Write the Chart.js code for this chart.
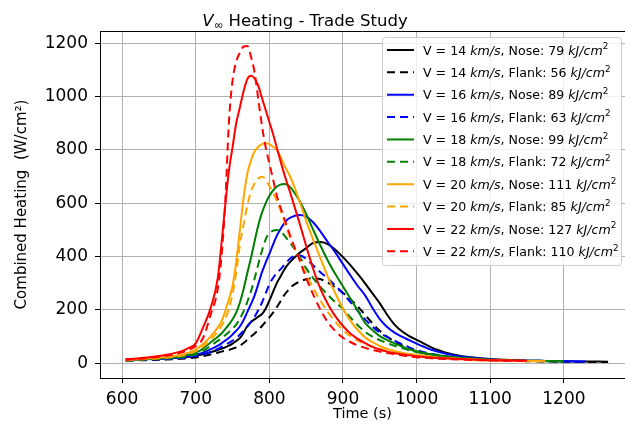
<!DOCTYPE html>
<html>
<head>
<meta charset="utf-8">
<script src="https://cdn.jsdelivr.net/npm/chart.js@4.4.1/dist/chart.umd.min.js"></script>
<style>
  html, body { margin: 0; padding: 0; background: #ffffff; }
  #wrap { width: 625px; height: 433px; }
</style>
</head>
<body>
<div id="wrap"><canvas id="chart" width="625" height="433"></canvas></div>
<script>
// Time samples (s) shared by every heating history
const timeS = [605, 620, 640, 660, 680, 690, 700, 710, 720, 730,
               735, 740, 745, 750, 755, 760, 765, 770, 775, 780,
               785, 790, 795, 800, 805, 810, 815, 820, 825, 830,
               840, 850, 860, 870, 880, 890, 900, 910, 920, 930,
               940, 950, 960, 970, 980, 990, 1000, 1010, 1020, 1030,
               1040, 1060, 1080, 1100, 1120, 1150, 1175, 1200, 1230, 1260];

// Combined heating (W/cm^2), nose and flank, per entry velocity
const v14Nose = [14, 15, 17, 19, 21, 24, 28, 34, 42, 50,
                 55, 60, 66, 74, 84, 95, 115, 140, 155, 165,
                 175, 185, 205, 235, 268, 300, 325, 350, 370, 385,
                 412, 432, 452, 455, 446, 425, 398, 368, 335, 300,
                 262, 225, 182, 145, 120, 102, 88, 74, 60, 49,
                 40, 28, 21, 16, 13, 10, 9, 8, 7, 6];
const v14Flank = [10, 11, 12, 14, 17, 19, 22, 27, 33, 40,
                  44, 47, 50, 55, 60, 66, 76, 88, 100, 112,
                  125, 140, 156, 172, 190, 210, 232, 255, 272, 288,
                  305, 315, 318, 315, 302, 284, 264, 240, 213, 182,
                  150, 122, 100, 82, 67, 55, 45, 38, 32, 27,
                  24, 19, 15, 12, 10, 8, 7, 6, 5, 5];
const v16Nose = [13, 14, 16, 18, 22, 26, 32, 40, 52, 66,
                 75, 85, 95, 108, 122, 138, 162, 192, 222, 255,
                 298, 342, 378, 410, 445, 478, 503, 524, 540, 548,
                 556, 550, 527, 492, 452, 414, 372, 330, 290, 255,
                 208, 166, 136, 115, 100, 87, 74, 62, 51, 43,
                 36, 26, 20, 15, 12, 10, 9, 8, 7, null];
const v16Flank = [11, 12, 14, 16, 19, 22, 27, 33, 42, 54,
                  62, 70, 77, 85, 95, 108, 122, 137, 155, 175,
                  200, 228, 262, 296, 320, 338, 352, 368, 384, 396,
                  405, 392, 366, 340, 316, 290, 262, 230, 197, 165,
                  138, 115, 98, 85, 72, 60, 50, 42, 36, 31,
                  27, 21, 16, 13, 11, 9, 8, 7, 6, null];
const v18Nose = [12, 14, 17, 20, 26, 32, 40, 55, 78, 100,
                 112, 128, 145, 165, 190, 228, 278, 338, 395, 458,
                 518, 565, 600, 628, 648, 662, 670, 672, 668, 655,
                 614, 560, 498, 438, 382, 333, 288, 243, 198, 152,
                 125, 102, 87, 75, 63, 53, 45, 39, 34, 30,
                 27, 21, 17, 14, 12, 10, 9, 8, null, null];
const v18Flank = [11, 12, 15, 18, 22, 27, 34, 46, 65, 84,
                  94, 105, 117, 130, 145, 168, 195, 230, 270, 318,
                  372, 422, 465, 488, 497, 500, 495, 481, 463, 445,
                  405, 356, 318, 285, 255, 228, 205, 172, 143, 118,
                  100, 87, 76, 66, 57, 49, 42, 37, 32, 28,
                  25, 20, 16, 13, 11, 9, 8, 7, null, null];
const v20Nose = [13, 15, 19, 24, 32, 40, 52, 72, 100, 135,
                 157, 195, 240, 290, 380, 500, 620, 710, 760, 795,
                 812, 822, 825, 822, 812, 800, 775, 745, 718, 690,
                 615, 535, 460, 390, 320, 260, 205, 160, 125, 98,
                 80, 65, 54, 46, 40, 35, 31, 28, 25, 22,
                 20, 17, 14, 12, 11, 9, 8, null, null, null];
const v20Flank = [12, 14, 17, 21, 28, 35, 46, 63, 88, 120,
                  140, 165, 205, 260, 340, 445, 520, 590, 645, 675,
                  693, 700, 690, 665, 640, 610, 575, 535, 495, 460,
                  395, 335, 280, 232, 190, 155, 125, 102, 85, 72,
                  62, 54, 47, 41, 36, 32, 28, 25, 22, 20,
                  18, 15, 12, 10, 9, 8, 7, null, null, null];
const v22Nose = [15, 18, 24, 32, 45, 57, 75, 135, 205, 320,
                 450, 590, 720, 810, 900, 960, 1020, 1065, 1078, 1068,
                 1040, 995, 950, 905, 860, 810, 760, 712, 668, 625,
                 535, 440, 350, 275, 220, 175, 140, 112, 92, 76,
                 62, 52, 44, 38, 34, 30, 27, 24, 22, 20,
                 19, 16, 14, 12, 11, 10, null, null, null, null];
const v22Flank = [13, 16, 21, 28, 40, 50, 65, 95, 180, 280,
                  400, 600, 900, 1060, 1130, 1165, 1188, 1190, 1150, 1090,
                  990, 890, 810, 750, 690, 630, 585, 545, 505, 465,
                  395, 320, 255, 198, 152, 120, 96, 80, 67, 58,
                  50, 44, 39, 34, 30, 26, 23, 21, 19, 17,
                  16, 14, 12, 11, 10, 9, null, null, null, null];

// Legend figures: velocity (km/s) and integrated heat load (kJ/cm^2)
const velocities = [14, 16, 18, 20, 22];
const noseLoad = [79, 89, 99, 111, 127];
const flankLoad = [56, 63, 72, 85, 110];

// Axis tick values
const xTicks = [600, 700, 800, 900, 1000, 1100, 1200];
const yTicks = [0, 200, 400, 600, 800, 1000, 1200];

const FONT = "'DejaVu Sans', sans-serif";
const colors = ['#000000', '#0000ff', '#008000', '#ffa500', '#ff0000'];
const DASH = [8, 5];

const seriesList = [
  [v14Nose, v14Flank], [v16Nose, v16Flank], [v18Nose, v18Flank],
  [v20Nose, v20Flank], [v22Nose, v22Flank]
];

const datasets = [];
const legendItems = [];
seriesList.forEach((pair, k) => {
  ['Nose', 'Flank'].forEach((loc, j) => {
    const vals = pair[j];
    const pts = [];
    timeS.forEach((t, i) => { if (vals[i] !== null) pts.push({ x: t, y: vals[i] }); });
    const idx = datasets.length;
    datasets.push({
      label: 'V = ' + velocities[k] + ' km/s, ' + loc + ': ' + (j === 0 ? noseLoad[k] : flankLoad[k]) + ' kJ/cm2',
      data: pts,
      borderColor: colors[k],
      borderWidth: 2,
      borderDash: j === 0 ? [] : DASH,
      borderCapStyle: 'butt',
      pointRadius: 0,
      fill: false,
      cubicInterpolationMode: 'monotone',
      order: 20 - idx
    });
    legendItems.push({ color: colors[k], dashed: j === 1, v: velocities[k], loc: loc,
                       load: j === 0 ? noseLoad[k] : flankLoad[k] });
  });
});

// Draw a run of mixed-style text segments starting at x, returns end x
function drawRich(ctx, segs, x, y, size, measureOnly) {
  let cx = x;
  segs.forEach(s => {
    let fs = size, dy = 0, style = '';
    if (s.s === 'i') style = 'oblique ';
    if (s.s === 'sup') { fs = size * 0.7; dy = -size * 0.42; }
    if (s.s === 'sub') { fs = size * 0.7; dy = size * 0.2; }
    ctx.font = style + fs + 'px ' + FONT;
    if (!measureOnly) ctx.fillText(s.t, cx, y + dy);
    cx += ctx.measureText(s.t).width;
  });
  return cx;
}

const decorPlugin = {
  id: 'decor',
  afterDraw(chart) {
    const ctx = chart.ctx;
    const area = chart.chartArea;
    ctx.save();
    // top spine
    ctx.strokeStyle = '#000';
    ctx.lineWidth = 1;
    ctx.beginPath();
    ctx.moveTo(area.left, area.top + 0.5);
    ctx.lineTo(area.right, area.top + 0.5);
    ctx.stroke();

    // title
    ctx.fillStyle = '#000';
    ctx.textBaseline = 'alphabetic';
    ctx.textAlign = 'left';
    const tSize = 16.5;
    const tSegs = [{ t: 'V', s: 'i' }, { t: '\u221e', s: 'sub' }, { t: ' Heating - Trade Study', s: 'n' }];
    const tw = drawRich(ctx, tSegs, 0, 0, tSize, true);
    drawRich(ctx, tSegs, 305 - tw / 2, 26, tSize, false);

    // legend box
    const bx = 382, by = 37, bw = 239, bh = 228;
    ctx.beginPath();
    ctx.roundRect(bx + 0.5, by + 0.5, bw, bh, 3);
    ctx.fillStyle = 'rgba(255,255,255,0.8)';
    ctx.fill();
    ctx.strokeStyle = '#cccccc';
    ctx.lineWidth = 1;
    ctx.stroke();

    const lSize = 12.6;
    legendItems.forEach((it, i) => {
      const ry = 50 + i * 22.37;
      ctx.beginPath();
      ctx.setLineDash(it.dashed ? DASH : []);
      ctx.lineCap = 'butt';
      ctx.strokeStyle = it.color;
      ctx.lineWidth = 2;
      ctx.moveTo(387, ry);
      ctx.lineTo(414, ry);
      ctx.stroke();
      ctx.setLineDash([]);
      ctx.fillStyle = '#000';
      drawRich(ctx, [
        { t: 'V = ' + it.v + ' ', s: 'n' },
        { t: 'km/s', s: 'i' },
        { t: ', ' + it.loc + ': ' + it.load + ' ', s: 'n' },
        { t: 'kJ/cm', s: 'i' },
        { t: '2', s: 'sup' }
      ], 423, ry + 4.6, lSize, false);
    });
    ctx.restore();
  }
};

const axisCommon = {
  grid: { color: '#b0b0b0', lineWidth: 1, tickLength: 5, tickColor: '#000', tickWidth: 1 },
  border: { color: '#000', width: 1 }
};

new Chart(document.getElementById('chart'), {
  type: 'line',
  data: { datasets: datasets },
  options: {
    responsive: false,
    devicePixelRatio: 1,
    animation: false,
    events: [],
    layout: { padding: { top: 31, left: 0, right: 0, bottom: 0 } },
    plugins: { legend: { display: false }, title: { display: false }, tooltip: { enabled: false } },
    scales: {
      x: {
        type: 'linear',
        min: 570,
        max: 1283,
        afterBuildTicks: s => { s.ticks = xTicks.map(v => ({ value: v })); },
        afterFit: s => { s.height = 55; },
        ticks: { color: '#000', font: { family: FONT, size: 17 }, padding: 6, maxRotation: 0, autoSkip: false,
                 callback: v => String(v) },
        title: { display: true, text: 'Time (s)', color: '#000', font: { family: FONT, size: 14.5 },
                 padding: { top: 0, bottom: 10 } },
        ...axisCommon
      },
      y: {
        type: 'linear',
        min: -55,
        max: 1246,
        afterBuildTicks: s => { s.ticks = yTicks.map(v => ({ value: v })); },
        afterFit: s => { s.width = 100; },
        ticks: { color: '#000', font: { family: FONT, size: 17 }, padding: 7,
                 callback: v => String(v) },
        title: { display: true, text: 'Combined Heating  (W/cm\u00b2)', color: '#000',
                 font: { family: FONT, size: 15 }, padding: { top: 13, bottom: 0 } },
        ...axisCommon
      }
    }
  },
  plugins: [decorPlugin]
});
</script>
</body>
</html>
